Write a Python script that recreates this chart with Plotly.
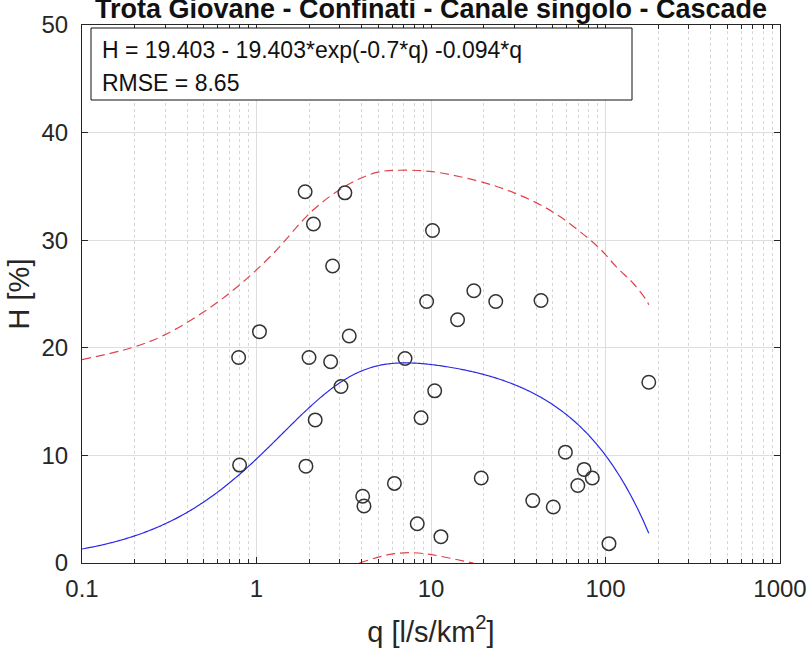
import numpy as np
import plotly.graph_objects as go

# ---- data ----
q_obs = [0.79, 0.80, 1.04, 1.90, 2.12, 2.73, 3.21, 2.00, 2.66, 3.40, 3.05, 7.10,
         10.2, 9.44, 14.2, 17.6, 10.5, 2.17, 1.92, 4.06, 4.13, 6.17, 8.77, 8.34,
         11.4, 23.5, 42.7, 177.0, 58.9, 75.4, 84.0, 69.4, 19.4, 38.3, 50.2, 104.7]
H_obs = [19.1, 9.1, 21.5, 34.5, 31.5, 27.6, 34.4, 19.1, 18.7, 21.1, 16.4, 19.0,
         30.9, 24.3, 22.6, 25.3, 16.0, 13.3, 9.0, 6.2, 5.3, 7.4, 13.5, 3.65,
         2.45, 24.3, 24.4, 16.8, 10.3, 8.7, 7.9, 7.2, 7.9, 5.8, 5.2, 1.8]

# fitted model parameters (as printed on the chart)
A = 19.403
B = 0.7
C = 0.094
q_fit_min, q_fit_max = 0.1, 177.0

# prediction band
q_upper = [0.1, 0.192, 0.298, 0.505, 0.78, 1.22, 2.11, 3.29, 4.89, 6.6, 9.8, 14.7,
           22.7, 31.0, 42.2, 54.8, 71.4, 93.0, 115.8, 144.0, 172.0, 177.0]
H_upper = [18.9, 20.0, 21.2, 23.4, 25.7, 28.6, 32.8, 35.1, 36.3, 36.5, 36.4, 35.9,
           35.1, 34.3, 33.3, 32.2, 30.8, 29.2, 27.5, 26.0, 24.4, 24.0]
q_lower = [3.88, 5.82, 7.58, 9.87, 12.9, 17.5]
H_lower = [0.0, 0.8, 0.96, 0.8, 0.44, 0.0]

title = "Trota Giovane - Confinati - Canale singolo - Cascade"
eq_text = "H = 19.403 - 19.403*exp(-0.7*q) -0.094*q"
rmse_text = "RMSE = 8.65"

# ---- model curve from the stated equation ----
q_fit = np.logspace(np.log10(q_fit_min), np.log10(q_fit_max), 400)
H_fit = A - A * np.exp(-B * q_fit) - C * q_fit

FONT = "Liberation Sans, Arial, Helvetica, sans-serif"
AX = "#262626"
RED = "#e0434a"

fig = go.Figure()
fig.add_trace(go.Scatter(x=q_upper, y=H_upper, mode="lines", line_shape="spline",
                         line=dict(color=RED, width=1.2, dash="9px,5px"),
                         showlegend=False, hoverinfo="skip"))
fig.add_trace(go.Scatter(x=q_lower, y=H_lower, mode="lines", line_shape="spline",
                         line=dict(color=RED, width=1.2, dash="9px,5px"),
                         showlegend=False, hoverinfo="skip"))
fig.add_trace(go.Scatter(x=q_fit, y=H_fit, mode="lines",
                         line=dict(color="#2a2ae6", width=1.2, simplify=False),
                         showlegend=False))
fig.add_trace(go.Scatter(x=q_obs, y=H_obs, mode="markers",
                         marker=dict(symbol="circle-open", size=13.5, color="#333333",
                                     line=dict(color="#333333", width=1.5)),
                         showlegend=False))

fig.update_layout(
    width=810, height=649,
    margin=dict(l=82, r=30, t=25, b=86, autoexpand=False),
    paper_bgcolor="white", plot_bgcolor="white",
    font=dict(family=FONT, size=24, color=AX),
    title=dict(text="<b>" + title + "</b>", xref="paper", x=0.5, xanchor="center",
               yref="container", y=1 - 8.5 / 649, yanchor="middle",
               font=dict(size=27, color="#111111")),
)
fig.update_xaxes(
    type="log", range=[-1, 3], dtick=1, exponentformat="none",
    ticks="inside", ticklen=6, tickcolor=AX, showline=True, linecolor=AX,
    linewidth=1, mirror="ticks", ticklabelstandoff=4, automargin=False,
    showgrid=True, gridcolor="#dedede", gridwidth=1,
    minor=dict(ticks="inside", ticklen=4, tickcolor=AX, showgrid=True,
               gridcolor="#d6d6d6", griddash="dot", gridwidth=1),
    title=dict(text="q [l/s/km<sup>2</sup>]", standoff=20),
    zeroline=False,
)
fig.update_yaxes(
    range=[0, 50], dtick=10,
    ticks="inside", ticklen=6, tickcolor=AX, showline=True, linecolor=AX,
    linewidth=1, mirror="ticks", ticklabelstandoff=8, automargin=False,
    showgrid=True, gridcolor="#dedede", gridwidth=1,
    title=dict(text="H [%]", standoff=3),
    zeroline=False,
)

# text box
fig.add_shape(type="rect", xref="paper", yref="paper",
              x0=(91 - 82) / 698, x1=(632 - 82) / 698,
              y0=(563 - 100) / 538, y1=(563 - 28) / 538,
              line=dict(color="#111111", width=1), fillcolor="white", layer="above")
fig.add_annotation(xref="paper", yref="paper", x=(100 - 82) / 698, y=(563 - 50) / 538,
                   xanchor="left", yanchor="middle", text=eq_text, showarrow=False,
                   font=dict(size=23, color="#111111"))
fig.add_annotation(xref="paper", yref="paper", x=(100 - 82) / 698, y=(563 - 83) / 538,
                   xanchor="left", yanchor="middle", text=rmse_text, showarrow=False,
                   font=dict(size=23, color="#111111"))

fig.write_html("out.html")
